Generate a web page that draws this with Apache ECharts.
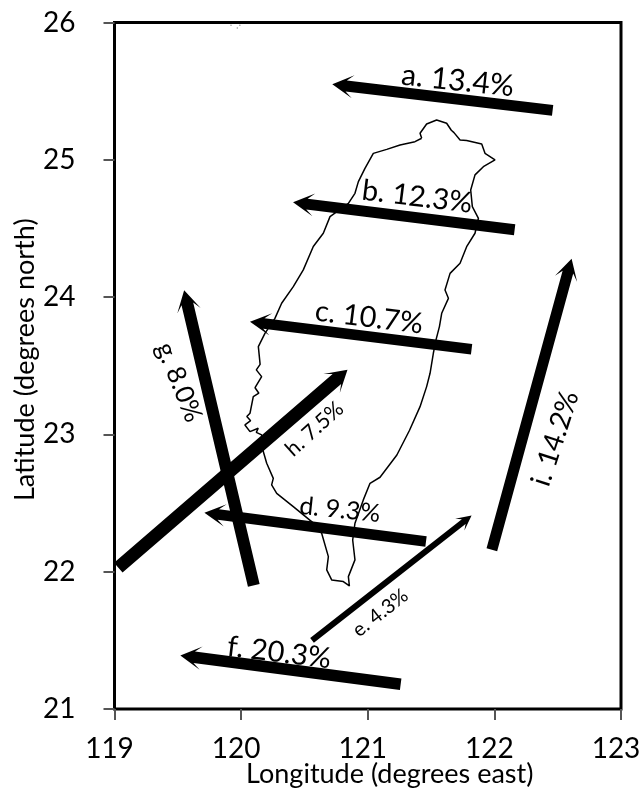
<!DOCTYPE html>
<html><head><meta charset="utf-8">
<style>html,body{margin:0;padding:0;background:#fff}#c{width:640px;height:790px}</style>
<script src="https://cdn.jsdelivr.net/npm/echarts@6/dist/echarts.min.js"></script>
</head><body><div id="c"></div>
<script>
const xTicks = [119, 120, 121, 122, 123];
const yTicks = [21, 22, 23, 24, 25, 26];
// [tail lon, tail lat, head lon, head lat]
const arrowA = [122.46, 25.36, 120.72, 25.55];
const arrowB = [122.16, 24.49, 120.41, 24.69];
const arrowC = [121.82, 23.62, 120.07, 23.82];
const arrowD = [121.46, 22.22, 119.71, 22.43];
const arrowE = [120.56, 21.50, 121.82, 22.41];
const arrowF = [121.26, 21.18, 119.52, 21.39];
const arrowG = [120.10, 21.90, 119.55, 24.05];
const arrowH = [119.03, 22.03, 120.84, 23.47];
const arrowI = [121.98, 22.16, 122.61, 24.28];
const labelTexts = ['a. 13.4%','b. 12.3%','c. 10.7%','d. 9.3%','e. 4.3%','f. 20.3%','g. 8.0%','h. 7.5%','i. 14.2%'];
const labelLon = [121.71, 121.39, 121.01, 120.78, 121.10, 120.30, 119.51, 120.58, 122.48];
const labelLat = [25.575, 24.73, 23.85, 22.45, 21.70, 21.41, 23.38, 23.04, 22.97];
const coast = [[121.426,25.157],[121.413,25.193],[121.465,25.261],[121.544,25.290],[121.623,25.266],[121.660,25.215],[121.681,25.198],[121.729,25.144],[121.781,25.140],[121.900,25.115],[121.926,25.047],[122.005,24.999],[121.913,24.950],[121.847,24.890],[121.813,24.780],[121.826,24.659],[121.874,24.574],[121.847,24.465],[121.781,24.367],[121.729,24.246],[121.650,24.173],[121.610,24.052],[121.637,23.991],[121.584,23.882],[121.566,23.785],[121.539,23.688],[121.518,23.591],[121.492,23.445],[121.465,23.348],[121.413,23.202],[121.33,23.03],[121.23,22.85],[121.097,22.688],[121.018,22.644],[120.965,22.523],[120.899,22.353],[120.881,22.231],[120.899,22.086],[120.847,21.964],[120.855,21.896],[120.807,21.928],[120.715,21.940],[120.676,22.013],[120.689,22.110],[120.636,22.280],[120.557,22.365],[120.412,22.474],[120.281,22.571],[120.241,22.632],[120.254,22.680],[120.202,22.790],[120.175,22.875],[120.162,22.996],[120.120,23.015],[120.135,23.045],[120.070,23.020],[120.030,23.069],[120.075,23.100],[120.045,23.130],[120.070,23.154],[120.096,23.275],[120.140,23.300],[120.110,23.340],[120.162,23.421],[120.120,23.470],[120.150,23.510],[120.136,23.639],[120.188,23.736],[120.267,23.845],[120.320,23.955],[120.412,24.076],[120.491,24.198],[120.570,24.368],[120.649,24.465],[120.702,24.586],[120.847,24.683],[120.899,24.756],[120.926,24.841],[120.978,24.938],[121.044,25.047],[121.150,25.076],[121.255,25.108],[121.373,25.132],[121.426,25.157]];
const specks = [[119.92,25.98],[119.97,25.96],[119.99,25.98]];

const arrows = [arrowA,arrowB,arrowC,arrowD,arrowE,arrowF,arrowG,arrowH,arrowI];
const shaftWidths = [11,11,10.5,10.5,6,11.5,12,13,11];
const labelSizes = [30,29,29,25,20,29,26,21.5,28];
const labelRot = [-6,-7,-7,-6,38,-7,-68,42,72];
const FONT = 'Lato, "Open Sans", sans-serif';

const chart = echarts.init(document.getElementById('c'), null, {renderer:'canvas'});

function renderArrow(params, api) {
  const t = api.coord([api.value(0), api.value(1)]);
  const h = api.coord([api.value(2), api.value(3)]);
  const w = shaftWidths[params.dataIndex];
  const dx = h[0]-t[0], dy = h[1]-t[1], len = Math.hypot(dx,dy);
  const ux = dx/len, uy = dy/len, nx = -uy, ny = ux;
  const L = w < 8 ? 15 : 21, N = w < 8 ? 10 : 14, H = w < 8 ? 7.5 : w*0.5+6;
  const P = (a,b) => [t[0]+ux*a+nx*b, t[1]+uy*a+ny*b];
  return {
    type:'polygon',
    shape:{points:[P(0,w/2),P(len-N,w/2),P(len-L,H),P(len,0),P(len-L,-H),P(len-N,-w/2),P(0,-w/2)]},
    style:{fill:'#000'}
  };
}

chart.setOption({
  animation:false,
  backgroundColor:'#fff',
  grid:{left:114.5,right:19,top:22.5,bottom:81,show:true,borderColor:'#000',borderWidth:3,backgroundColor:'transparent',outerBoundsMode:'none'},
  xAxis:{type:'value',min:119,max:123,interval:1,
    axisLine:{show:false},splitLine:{show:false},
    axisTick:{show:true,length:11,lineStyle:{color:'#555',width:2}},
    axisLabel:{color:'#000',fontFamily:FONT,fontSize:28,margin:26,padding:[0,10,0,0],showMaxLabel:true,showMinLabel:true,formatter:v=>String(v)},
    name:'Longitude (degrees east)',nameLocation:'middle',nameGap:52,nameMoveOverlap:false,
    nameTextStyle:{color:'#000',fontFamily:FONT,fontSize:27,padding:[0,0,0,44]}},
  yAxis:{type:'value',min:21,max:26,interval:1,
    axisLine:{show:false},splitLine:{show:false},
    axisTick:{show:true,length:11,lineStyle:{color:'#555',width:2}},
    axisLabel:{color:'#000',fontFamily:FONT,fontSize:28,margin:39,formatter:v=>String(v)},
    name:'Latitude (degrees north)',nameLocation:'middle',nameGap:76,nameMoveOverlap:false,
    nameTextStyle:{color:'#000',fontFamily:FONT,fontSize:27,padding:[0,0,0,12]}},
  series:[
    {type:'line',data:coast,showSymbol:false,lineStyle:{color:'#000',width:1.5},z:2,silent:true},
    {type:'scatter',data:specks,symbolSize:1.5,itemStyle:{color:'#777'},z:2,silent:true},
    {type:'custom',data:arrows,renderItem:renderArrow,z:3,silent:true,clip:false,encode:{x:[0,2],y:[1,3]}},
    {type:'scatter',symbolSize:0,z:4,silent:true,itemStyle:{opacity:1},
      data:labelTexts.map((t,i)=>({value:[labelLon[i],labelLat[i]],name:t,
        label:{show:true,position:'inside',formatter:t,rotate:labelRot[i],fontSize:labelSizes[i],
          fontFamily:FONT,color:'#000',opacity:1,align:'center',verticalAlign:'middle'}}))}
  ]
});
</script></body></html>
